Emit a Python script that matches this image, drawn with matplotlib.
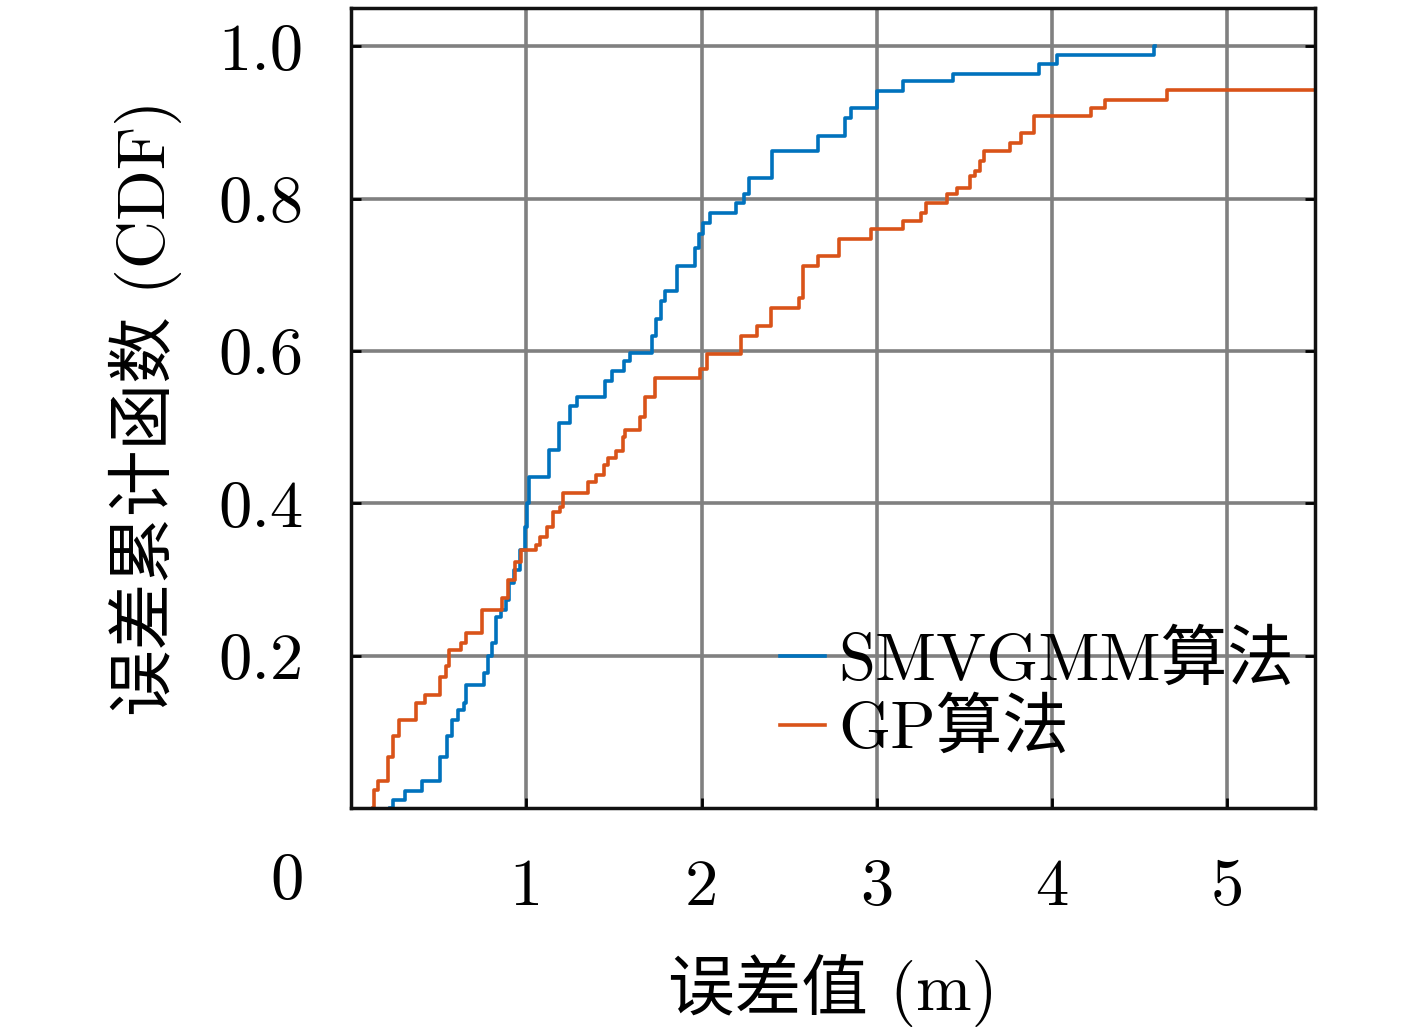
import matplotlib
matplotlib.use("Agg")
import matplotlib.pyplot as plt

# step points (x = error in m, y = CDF level after the step)
smvgmm_x = [0.222, 0.239, 0.307, 0.404, 0.507, 0.546, 0.575, 0.609, 0.643, 0.655,
            0.757, 0.780, 0.803, 0.825, 0.854, 0.882, 0.899, 0.928, 0.962, 0.990,
            1.002, 1.013, 1.127, 1.184, 1.252, 1.292, 1.451, 1.491, 1.559, 1.594,
            1.719, 1.742, 1.770, 1.793, 1.861, 1.964, 1.986, 2.009, 2.049, 2.197,
            2.242, 2.271, 2.402, 2.664, 2.817, 2.851, 2.999, 3.147, 3.432, 3.927,
            4.030, 4.582, 4.590]
smvgmm_y = [0.0, 0.010, 0.022, 0.035, 0.067, 0.094, 0.116, 0.129, 0.138, 0.162,
            0.177, 0.199, 0.217, 0.251, 0.260, 0.273, 0.295, 0.312, 0.339, 0.369,
            0.400, 0.434, 0.470, 0.505, 0.528, 0.539, 0.561, 0.574, 0.587, 0.598,
            0.620, 0.642, 0.666, 0.679, 0.712, 0.735, 0.754, 0.768, 0.781, 0.794,
            0.806, 0.827, 0.862, 0.882, 0.906, 0.919, 0.941, 0.954, 0.964, 0.977,
            0.989, 1.0, 1.0]

gp_x = [0.125, 0.130, 0.154, 0.211, 0.239, 0.273, 0.370, 0.421, 0.507, 0.541,
        0.558, 0.626, 0.655, 0.746, 0.859, 0.894, 0.933, 0.968, 1.053, 1.081,
        1.121, 1.155, 1.195, 1.212, 1.355, 1.400, 1.446, 1.468, 1.514, 1.554,
        1.565, 1.651, 1.679, 1.736, 1.992, 2.032, 2.225, 2.316, 2.396, 2.555,
        2.578, 2.664, 2.783, 2.965, 3.147, 3.250, 3.278, 3.398, 3.455, 3.534,
        3.563, 3.586, 3.614, 3.762, 3.825, 3.899, 4.223, 4.303, 4.656, 5.5]
gp_y = [0.0, 0.024, 0.035, 0.067, 0.094, 0.116, 0.138, 0.149, 0.172, 0.186,
        0.208, 0.217, 0.230, 0.260, 0.276, 0.299, 0.323, 0.339, 0.345, 0.356,
        0.369, 0.388, 0.395, 0.413, 0.428, 0.437, 0.450, 0.459, 0.469, 0.487,
        0.496, 0.513, 0.539, 0.564, 0.577, 0.596, 0.620, 0.633, 0.657, 0.670,
        0.712, 0.725, 0.747, 0.760, 0.771, 0.781, 0.794, 0.806, 0.814, 0.830,
        0.836, 0.849, 0.862, 0.873, 0.886, 0.908, 0.919, 0.930, 0.943, 0.943]

x_ticks = [1, 2, 3, 4, 5]
y_ticks = [0.2, 0.4, 0.6, 0.8, 1.0]
y_tick_labels = ["0.2", "0.4", "0.6", "0.8", "1.0"]

fonts = ["cmr10", "Noto Sans CJK SC", "DejaVu Serif"]
plt.rcParams["font.family"] = fonts
plt.rcParams["axes.formatter.use_mathtext"] = True

fs = 48

fig = plt.figure(figsize=(14.17, 10.30), dpi=100)
ax = fig.add_axes([0.2477, 0.2155, 0.9280 - 0.2477, 0.992 - 0.2155])

ax.plot(smvgmm_x, smvgmm_y, drawstyle="steps-post", color="#0072BD", lw=2.6,
        label="SMVGMM算法")
ax.plot(gp_x, gp_y, drawstyle="steps-post", color="#D95319", lw=2.6,
        label="GP算法")

ax.set_xlim(0, 5.5)
ax.set_ylim(0, 1.05)
ax.set_xticks(x_ticks)
ax.set_xticklabels([str(t) for t in x_ticks])
ax.set_yticks(y_ticks)
ax.set_yticklabels(y_tick_labels)
ax.tick_params(direction="in", length=7, width=2, labelsize=fs,
               top=False, right=True)
ax.tick_params(axis="x", pad=36)
ax.tick_params(axis="y", pad=34)
ax.grid(True, color="#808080", lw=2.6)
for s in ax.spines.values():
    s.set_linewidth(2.5)
    s.set_color("#111111")

# the lone "0" sits below-left of the axes in the original
fig.text(287 / 1417, 1 - 882 / 1030, "0", fontsize=fs, ha="center", va="center")

ax.set_xlabel("误差值 (m)", fontsize=fs, labelpad=26)
ax.set_ylabel("误差累计函数 (CDF)", fontsize=fs, labelpad=26)

leg = ax.legend(loc="center left", bbox_to_anchor=(0.445, 0.14), frameon=False,
                fontsize=fs, handlelength=0.67, handletextpad=0.2,
                labelspacing=0.1, borderaxespad=0.0, borderpad=0.0)
for h in leg.get_lines():
    h.set_linewidth(2.6)

fig.savefig("out.png", dpi=100)
